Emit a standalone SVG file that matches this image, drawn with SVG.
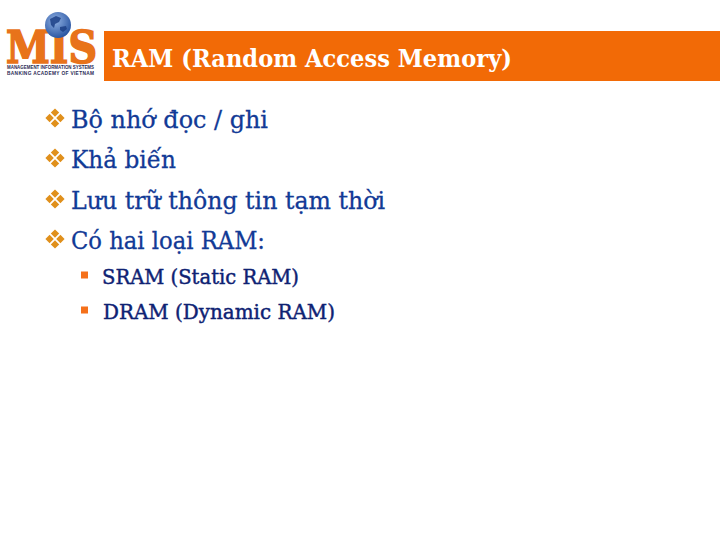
<svg xmlns="http://www.w3.org/2000/svg" width="720" height="540" viewBox="0 0 720 540">
<style>
text{font-family:"DejaVu Serif","Liberation Serif",serif}
.b{font-size:25px;fill:#123a96;stroke:#123a96;stroke-width:.3}
.s{font-size:21px;fill:#0e2273;stroke:#0e2273;stroke-width:.45}
.d{fill:#e0901c}
.sq{fill:#f5701a}
.l{font-size:4.800px;font-weight:bold;fill:#2a2a55;font-family:"Liberation Sans",sans-serif}
</style>
<defs>
<path id="bullet" class="d" d="M0-9.600 4.200-5.400 0-1.200-4.200-5.400zM0 1.200 4.200 5.400 0 9.600-4.200 5.400zM-5.400-4.200-1.200 0-5.400 4.200-9.600 0zM5.400-4.200 9.600 0 5.400 4.200 1.200 0z"/>
<radialGradient id="globe" cx=".4" cy=".35" r=".75"><stop offset="0" stop-color="#8fb0e2"/><stop offset="1" stop-color="#1d4a9a"/></radialGradient>
</defs>
<rect width="720" height="540" fill="#fff"/>
<g id="header">
<rect x="104" y="31" width="616" height="50" fill="#f26a06"/>
<text x="112" y="67" font-size="25" font-weight="bold" fill="#fff" textLength="400" lengthAdjust="spacingAndGlyphs">RAM (Random Access Memory)</text>
</g>
<g id="logo">
<text x="6" y="63" font-size="44" font-weight="bold" fill="#e8731a" stroke="#e8731a" stroke-width="1.600" textLength="91" lengthAdjust="spacingAndGlyphs">MIS</text>
<circle cx="58" cy="25" r="13" fill="url(#globe)"/>
<path d="M50 19l6-3 5 2-2 4-4 2-1 4-3-3zM60 27l6-1 1 3-4 3-3-2z" fill="#1c3f86" opacity=".85"/>
<text class="l" x="7" y="68.800" textLength="87" lengthAdjust="spacingAndGlyphs">MANAGEMENT INFORMATION SYSTEMS</text>
<text class="l" x="7" y="75" textLength="87" lengthAdjust="spacing">BANKING ACADEMY OF VIETNAM</text>
</g>
<g id="list">
<use href="#bullet" x="55" y="118"/>
<text class="b" x="71" y="128" textLength="197" lengthAdjust="spacingAndGlyphs">Bộ nhớ đọc / ghi</text>
<use href="#bullet" x="55" y="158"/>
<text class="b" x="71" y="168" textLength="105" lengthAdjust="spacingAndGlyphs">Khả biến</text>
<use href="#bullet" x="55" y="199"/>
<text class="b" x="71" y="209" textLength="314" lengthAdjust="spacingAndGlyphs">Lưu trữ thông tin tạm thời</text>
<use href="#bullet" x="55" y="239"/>
<text class="b" x="71" y="249" textLength="194" lengthAdjust="spacingAndGlyphs">Có hai loại RAM:</text>
</g>
<g id="sublist">
<rect class="sq" x="81" y="271.500" width="7" height="7"/>
<text class="s" x="102" y="284" textLength="197" lengthAdjust="spacingAndGlyphs">SRAM (Static RAM)</text>
<rect class="sq" x="81" y="306.500" width="7" height="7"/>
<text class="s" x="103" y="319" textLength="232" lengthAdjust="spacingAndGlyphs">DRAM (Dynamic RAM)</text>
</g>
</svg>
